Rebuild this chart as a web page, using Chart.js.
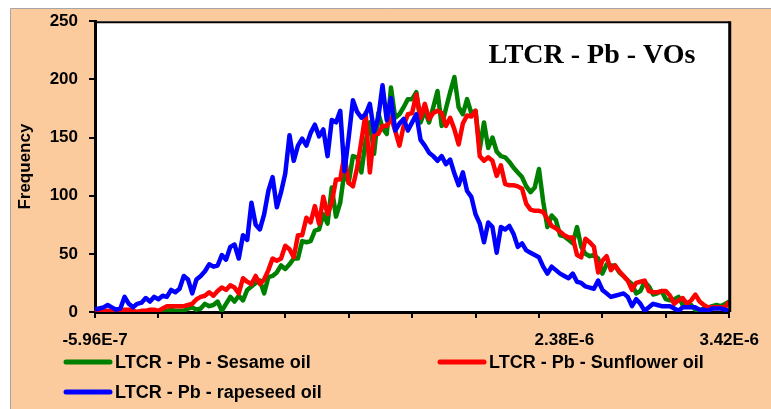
<!DOCTYPE html>
<html><head><meta charset="utf-8">
<script src="https://cdn.jsdelivr.net/npm/chart.js@4.4.1/dist/chart.umd.min.js"></script>
<style>html,body{margin:0;padding:0;background:#fff;overflow:hidden}#wrap{width:771px;height:409px;position:relative}</style>
</head><body><div id="wrap"><canvas id="c" width="771" height="409"></canvas></div>
<script>
// ---- data ----
const sesame = [
  0,0,0,0,1,0,0,1,0,0,
  0,0,0,0,0,0,1,1,2,1,
  1,1,3,4,2,3,7,5,6,9,
  1,7,13,9,14,10,19,22,25,27,
  16,30,31,34,40,37,41,46,46,61,
  60,61,70,71,84,76,107,82,94,121,
  111,134,133,120,147,163,136,171,158,153,
  193,167,170,176,183,183,189,163,173,163,
  176,190,160,175,189,202,176,170,183,171,
  173,140,163,141,150,138,134,133,129,124,
  120,116,108,103,107,123,95,73,83,79,
  66,65,62,59,73,56,50,48,49,46,
  33,41,40,40,34,31,27,24,16,18,
  26,22,15,16,18,11,10,11,13,6,
  8,6,2,1,3,4,5,6,5,7,9
];
const sunflower = [
  0,1,1,1,1,1,1,2,2,1,
  0,1,1,2,2,1,3,5,5,5,
  5,5,6,7,11,13,14,17,14,18,
  21,19,23,21,16,29,26,24,31,24,
  28,36,46,44,46,57,54,47,66,66,
  81,77,91,76,99,84,94,114,114,135,
  111,108,124,147,171,120,153,153,160,160,
  167,156,143,160,170,171,187,167,179,166,
  171,173,171,160,167,157,144,162,169,168,
  173,134,130,133,130,117,126,110,109,109,
  108,106,93,88,87,87,86,80,74,72,
  69,66,64,64,49,47,63,60,56,34,
  44,48,36,40,35,31,27,19,25,26,
  27,18,17,17,18,18,14,7,10,12,
  7,10,15,9,6,4,4,4,4,4,9
];
const rapeseed = [
  2,3,4,6,4,2,3,13,7,4,
  7,8,12,9,13,11,14,13,19,17,
  20,31,28,16,28,31,35,41,39,40,
  49,45,56,58,46,66,62,94,75,71,
  84,104,116,90,103,119,152,130,143,149,
  143,154,161,151,157,134,165,163,173,121,
  150,182,172,167,170,179,155,167,195,165,
  184,156,162,166,156,163,170,148,143,137,
  134,130,134,127,131,119,109,120,104,99,
  84,76,60,77,73,51,73,71,74,67,
  56,59,53,51,49,47,39,33,39,36,
  33,31,29,33,26,25,22,21,20,27,
  19,16,13,14,15,16,13,5,11,7,
  1,4,7,6,5,5,5,3,1,4,
  4,4,4,2,2,1,3,3,3,2,1
];
const categories = sesame.map((_, i) => i);          // bin numbers
const xTickIndex = [0, 111, 150];
const xTickText = ['-5.96E-7', '2.38E-6', '3.42E-6'];
const xTickEvery = 15;
const seriesNames = ['LTCR - Pb - Sesame oil', 'LTCR - Pb - Sunflower oil', 'LTCR - Pb - rapeseed oil'];
const seriesColors = ['#008000', '#FF0000', '#0000FF'];
const chartTitle = 'LTCR - Pb - VOs';
const yTitle = 'Frequency';

const FONT = '"Liberation Sans", Arial, sans-serif';

const deco = {
  id: 'deco',
  beforeDraw(chart) {
    const {ctx, chartArea: a} = chart;
    ctx.save();
    ctx.fillStyle = '#fff'; ctx.fillRect(0, 0, 771, 409);
    ctx.fillStyle = '#FBCB9E'; ctx.fillRect(10, 8, 761, 401);
    ctx.strokeStyle = '#A6A6A6'; ctx.lineWidth = 1;
    ctx.beginPath(); ctx.moveTo(10.5, 409); ctx.lineTo(10.5, 8.5); ctx.lineTo(771, 8.5); ctx.stroke();
    ctx.fillStyle = '#fff'; ctx.fillRect(a.left, a.top, a.right - a.left, a.bottom - a.top);
    ctx.restore();
  },
  afterDatasetsDraw(chart) {
    const {ctx, chartArea: a} = chart;
    ctx.save();
    ctx.strokeStyle = '#000';
    ctx.lineWidth = 2;
    ctx.beginPath(); ctx.moveTo(a.left, a.top + 1); ctx.lineTo(a.right, a.top + 1); ctx.stroke();
    ctx.lineWidth = 3;
    ctx.beginPath(); ctx.moveTo(a.right + 0.5, a.top); ctx.lineTo(a.right + 0.5, a.bottom); ctx.stroke();
    // title inside plot
    ctx.fillStyle = '#000';
    ctx.font = 'bold 28px "Liberation Serif", "Times New Roman", serif';
    ctx.textAlign = 'center'; ctx.textBaseline = 'alphabetic';
    ctx.fillText(chartTitle, 592, 63);
    // legend
    const items = [{x: 66, y: 362}, {x: 440, y: 362}, {x: 66, y: 392}];
    ctx.font = 'bold 18px ' + FONT;
    ctx.textAlign = 'left'; ctx.textBaseline = 'middle';
    items.forEach((it, i) => {
      ctx.strokeStyle = seriesColors[i]; ctx.lineWidth = 5; ctx.lineCap = 'round';
      ctx.beginPath(); ctx.moveTo(it.x, it.y); ctx.lineTo(it.x + 44, it.y); ctx.stroke();
      ctx.fillStyle = '#000';
      ctx.fillText(seriesNames[i], it.x + 49, it.y + 1);
    });
    ctx.restore();
  }
};

const data = {
  labels: categories,
  datasets: [sesame, sunflower, rapeseed].map((d, i) => ({
    label: seriesNames[i], data: d, borderColor: seriesColors[i], backgroundColor: seriesColors[i],
    borderWidth: 4.5, pointRadius: 0, tension: 0, fill: false, order: 3 - i,
    borderJoinStyle: 'round'
  }))
};

new Chart(document.getElementById('c'), {
  type: 'line',
  data,
  plugins: [deco],
  options: {
    responsive: false, devicePixelRatio: 1, animation: false,
    layout: {padding: {left: 10, top: 20, right: 38, bottom: 0}},
    plugins: {legend: {display: false}, title: {display: false}, tooltip: {enabled: false}},
    scales: {
      x: {
        type: 'category', offset: false,
        afterFit: s => { s.height = 97; },
        grid: {
          drawOnChartArea: false, drawTicks: true, tickLength: 6, lineWidth: 2,
          color: c => (c.index % xTickEvery === 0 ? '#000' : 'rgba(0,0,0,0)')
        },
        border: {display: true, color: '#000', width: 3},
        ticks: {
          autoSkip: false, maxRotation: 0, minRotation: 0, padding: 12, color: '#000',
          font: {family: FONT, size: 17, weight: 'bold'},
          callback: (v, i) => { const k = xTickIndex.indexOf(i); return k >= 0 ? xTickText[k] : ''; }
        }
      },
      y: {
        min: 0, max: 250,
        afterFit: s => { s.width = 85; },
        grid: {drawOnChartArea: false, drawTicks: true, tickLength: 6, lineWidth: 2, color: '#000'},
        border: {display: true, color: '#000', width: 3},
        ticks: {stepSize: 50, padding: 11, color: '#000', font: {family: FONT, size: 17, weight: 'bold'}},
        title: {display: true, text: yTitle, color: '#000', padding: {top: 5, bottom: 0},
                font: {family: FONT, size: 17, weight: 'bold'}}
      }
    }
  }
});
</script>
</body></html>
